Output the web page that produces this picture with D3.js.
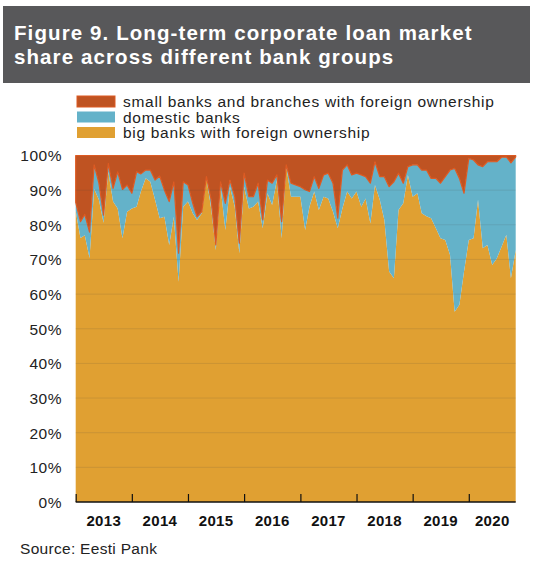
<!DOCTYPE html>
<html>
<head>
<meta charset="utf-8">
<script src="https://cdn.jsdelivr.net/npm/d3@7"></script>
<style>
  html, body { margin: 0; padding: 0; background: #fff; }
  svg { display: block; }
</style>
</head>
<body>
<svg id="chart" width="534" height="574"></svg>
<script>
// Monthly shares of long-term corporate loans, Jan 2013 – Nov 2020 (%)
const startYear = 2013;
const bigForeign = [
  84.0, 76.2, 77.0, 70.4, 90.3, 87.2, 80.6, 95.3, 86.7, 84.7, 76.1, 83.8,
  84.7, 85.2, 89.6, 93.4, 92.4, 87.2, 81.9, 82.3, 74.2, 82.3, 63.6, 85.2,
  86.7, 83.3, 81.4, 83.3, 93.4, 84.7, 72.7, 91.0, 78.5, 91.0, 85.2, 71.8,
  91.0, 84.7, 85.2, 86.7, 79.0, 89.1, 85.7, 92.9, 76.1, 96.8, 88.1, 88.1,
  88.1, 78.5, 85.2, 89.6, 84.3, 88.1, 87.6, 83.8, 79.0, 84.7, 89.6, 87.6,
  89.6, 85.2, 87.6, 80.4, 91.5, 87.2, 81.4, 66.5, 64.6, 84.3, 86.2, 94.4,
  88.1, 89.1, 83.3, 82.5, 81.9, 79.0, 76.1, 75.6, 71.3, 54.9, 56.9, 66.5,
  75.6, 76.1, 87.2, 73.2, 74.2, 68.4, 70.3, 73.7, 77.1, 64.6, 72.7
];
const domestic = [
   2.5,  4.7,  6.0,  7.5,  7.0,  4.8,  2.2,  2.4,  3.8, 10.6, 14.1,  7.7,
   4.4, 10.1,  5.1,  2.4,  3.4,  5.7, 12.2,  7.7, 12.5, 10.1,  8.2,  7.2,
   4.8,  2.9,  0.9,  0.5,  0.5,  2.5,  1.5,  1.4,  7.7,  1.9,  2.9,  2.9,
   3.9,  3.4,  2.9,  5.3,  2.4,  3.8,  6.3,  1.5,  4.8,  0.5,  3.9,  3.4,
   2.9, 11.6,  4.4,  4.3,  6.2,  6.3,  7.3,  8.2,  2.9, 11.1,  7.7,  6.8,
   5.3,  9.2,  6.3, 11.6,  6.7,  6.7, 12.5, 24.5, 27.8, 10.6,  5.8,  2.4,
   9.2,  8.2, 12.5, 13.3, 11.5, 14.4, 15.9, 18.3, 24.5, 41.4, 36.5, 22.6,
  23.6, 22.6, 10.1, 23.6, 24.0, 29.8, 27.9, 25.8, 22.5, 33.3, 26.9
];
const smallForeign = [
  13.5, 19.1, 17.0, 22.1,  2.7,  8.0, 17.2,  2.3,  9.5,  4.7,  9.8,  8.5,
  10.9,  4.7,  5.3,  4.2,  4.2,  7.1,  5.9, 10.0, 13.3,  7.6, 28.2,  7.6,
   8.5, 13.8, 17.7, 16.2,  6.1, 12.8, 25.8,  7.6, 13.8,  7.1, 11.9, 25.3,
   5.1, 11.9, 11.9,  8.0, 18.6,  7.1,  8.0,  5.6, 19.1,  2.7,  8.0,  8.5,
   9.0,  9.9, 10.4,  6.1,  9.5,  5.6,  5.1,  8.0, 18.1,  4.2,  2.7,  5.6,
   5.1,  5.6,  6.1,  8.0,  1.8,  6.1,  6.1,  9.0,  7.6,  5.1,  8.0,  3.2,
   2.7,  2.7,  4.2,  4.2,  6.6,  6.6,  8.0,  6.1,  4.2,  3.7,  6.6, 10.9,
   0.8,  1.3,  2.7,  3.2,  1.8,  1.8,  1.8,  0.5,  0.4,  2.1,  0.4
];
const seriesKeys = ["big", "domestic", "small"];
const seriesNames = {
  small: "small banks and branches with foreign ownership",
  domestic: "domestic banks",
  big: "big banks with foreign ownership"
};
const legendOrder = ["small", "domestic", "big"];
const yTickValues = [0, 10, 20, 30, 40, 50, 60, 70, 80, 90, 100];
const yearLabels = ["2013", "2014", "2015", "2016", "2017", "2018", "2019", "2020"];

const colors = { big: "#e0a032", domestic: "#64b2c9", small: "#bf5322" };

const rows = bigForeign.map((v, i) => ({
  date: new Date(startYear, i, 1),
  big: v,
  domestic: domestic[i],
  small: smallForeign[i]
}));

const svg = d3.select("#chart");
const font = "'Liberation Sans', Arial, Helvetica, sans-serif";

// Title banner
svg.append("rect").attr("x", 3).attr("y", 6).attr("width", 527).attr("height", 77)
  .attr("fill", "#58585a");
[["Figure 9. Long-term corporate loan market", 40],
 ["share across different bank groups", 64]].forEach(([t, yy]) => {
  svg.append("text").attr("x", 14).attr("y", yy)
    .attr("font-family", font).attr("font-size", 20.5).attr("font-weight", "bold")
    .attr("letter-spacing", 1.1)
    .attr("fill", "#fff").text(t);
});

// Legend
const legend = svg.append("g").attr("transform", "translate(77,96)");
legendOrder.forEach((k, i) => {
  const g = legend.append("g").attr("transform", `translate(0,${i * 15.5})`);
  g.append("rect").attr("width", 38).attr("height", 11).attr("fill", colors[k])
    .attr("stroke", k === "small" ? "#dd5a22" : "none").attr("stroke-width", 1);
  g.append("text").attr("x", 46).attr("y", 11)
    .attr("font-family", font).attr("font-size", 15.5).attr("letter-spacing", 0.7)
    .attr("fill", "#222")
    .text(seriesNames[k]);
});

// Scales
const plot = { left: 75.7, right: 515.7, top: 155.5, bottom: 502 };
const x = d3.scaleTime()
  .domain([rows[0].date, rows[rows.length - 1].date])
  .range([plot.left, plot.right]);
const y = d3.scaleLinear().domain([0, 100]).range([plot.bottom, plot.top]);

// Stacked areas
const stacked = d3.stack().keys(seriesKeys)(rows);
const area = d3.area()
  .x(d => x(d.data.date))
  .y0(d => y(d[0]))
  .y1(d => y(d[1]));

svg.append("g").selectAll("path").data(stacked).join("path")
  .attr("d", area)
  .attr("fill", d => colors[d.key])
  .attr("stroke", d => d.key === "small" ? "#dd5a22" : "none")
  .attr("stroke-width", 1.2)
  .attr("stroke-linejoin", "round");

// Faint horizontal gridlines over the areas
svg.append("g").selectAll("line").data(yTickValues.filter(v => v > 0 && v < 100)).join("line")
  .attr("x1", plot.left).attr("x2", plot.right)
  .attr("y1", d => y(d)).attr("y2", d => y(d))
  .attr("stroke", "#444").attr("stroke-opacity", 0.18).attr("stroke-width", 0.8);

// Y axis labels
const yAxis = d3.axisLeft(y).tickValues(yTickValues).tickSize(0).tickPadding(0)
  .tickFormat(d => d + "%");
const yg = svg.append("g").attr("transform", "translate(62,0)").call(yAxis);
yg.select(".domain").remove();
yg.selectAll("text").attr("font-family", font).attr("font-size", 15.5)
  .attr("letter-spacing", 0.5)
  .attr("fill", "#222").attr("dy", "0.35em");

// X axis: year boundaries as ticks, labels centred within each year
const yearStarts = yearLabels.map(yr => new Date(+yr, 0, 1));
const xAxis = d3.axisBottom(x).tickValues(yearStarts).tickSize(-8).tickFormat("");
const xg = svg.append("g").attr("transform", `translate(0,${plot.bottom})`).call(xAxis);
xg.select(".domain").attr("stroke", "#111").attr("stroke-width", 1.4)
  .attr("d", `M${plot.left},0H${plot.right}`);
xg.selectAll(".tick line").attr("stroke", "#111").attr("stroke-width", 1.2);

svg.append("g").selectAll("text").data(yearLabels).join("text")
  .attr("x", (yr, i) => {
    const a = x(new Date(+yr, 0, 1));
    const b = i < yearLabels.length - 1 ? x(new Date(+yr + 1, 0, 1)) : plot.right;
    return (a + b) / 2;
  })
  .attr("y", 526)
  .attr("text-anchor", "middle")
  .attr("font-family", font).attr("font-size", 15).attr("font-weight", "bold")
  .attr("letter-spacing", 0.3)
  .attr("fill", "#111")
  .text(d => d);

// Source note
svg.append("text").attr("x", 20).attr("y", 554)
  .attr("font-family", font).attr("font-size", 15.5).attr("letter-spacing", 0.3)
  .attr("fill", "#222")
  .text("Source: Eesti Pank");
</script>
</body>
</html>
